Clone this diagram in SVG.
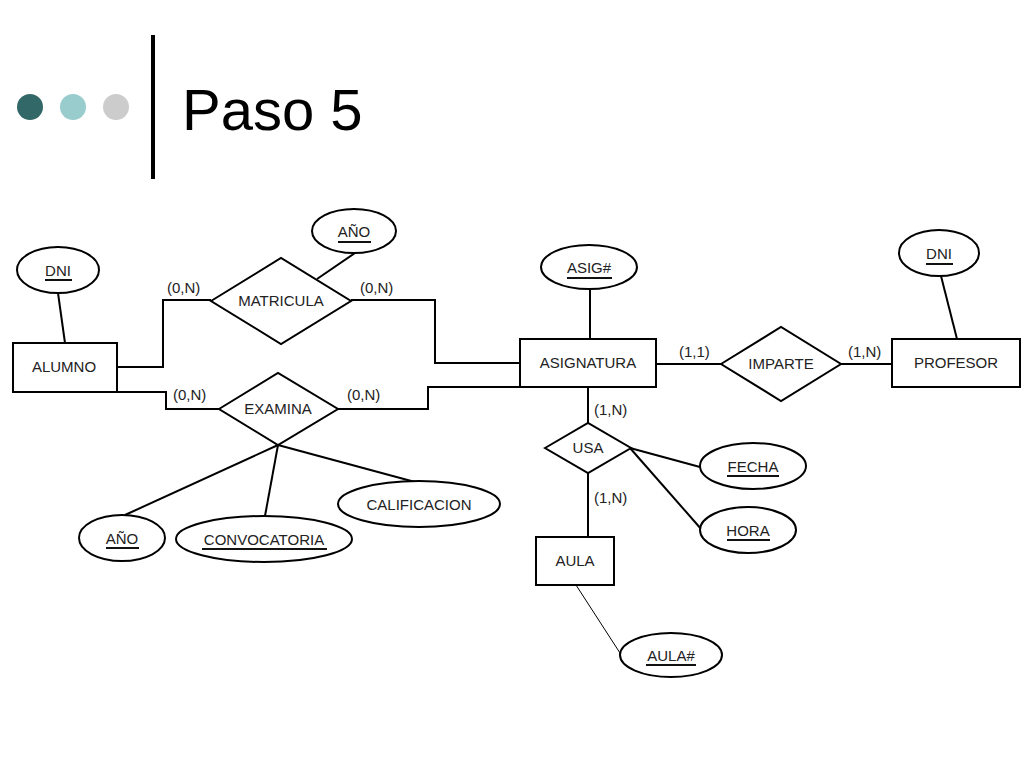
<svg xmlns="http://www.w3.org/2000/svg" width="1024" height="768" viewBox="0 0 1024 768">
<style>
.shape{fill:#fff;stroke:#000;stroke-width:2}
.conn{fill:none;stroke:#000;stroke-width:2}
.thin{fill:none;stroke:#000;stroke-width:1}
.t{font-family:"Liberation Sans",Arial,sans-serif;font-size:15px;fill:#222;text-anchor:middle}
.c{font-family:"Liberation Sans",Arial,sans-serif;font-size:15px;fill:#222}
.ul{stroke:#111;stroke-width:2}
</style>
<rect width="1024" height="768" fill="#fff"/>
<g id="header">
<circle cx="30" cy="107" r="13" fill="#336868"/>
<circle cx="73" cy="107" r="13" fill="#99cccc"/>
<circle cx="116" cy="107" r="13" fill="#cccccc"/>
<rect x="151" y="35" width="4" height="144" fill="#000"/>
<text x="182" y="130" font-family="'Liberation Sans',Arial,sans-serif" font-size="58" fill="#000">Paso 5</text>
</g>
<g id="connectors">
<polyline class="conn" points="117,367 163,367 163,300 211,300"/>
<polyline class="conn" points="351,300 435,300 435,363 520,363"/>
<polyline class="conn" points="117,392 166,392 166,409 219,409"/>
<polyline class="conn" points="338,409 428,409 428,387 520,387"/>
<line class="conn" x1="58" y1="293" x2="65" y2="343"/>
<line class="conn" x1="355" y1="253" x2="317" y2="279"/>
<line class="conn" x1="590" y1="290" x2="590" y2="339"/>
<line class="conn" x1="656" y1="364" x2="721" y2="364"/>
<line class="conn" x1="841" y1="364" x2="892" y2="364"/>
<line class="conn" x1="941" y1="276" x2="957" y2="339"/>
<line class="conn" x1="588" y1="387" x2="588" y2="423"/>
<line class="conn" x1="588" y1="473" x2="588" y2="537"/>
<line class="conn" x1="630" y1="448" x2="700" y2="467"/>
<line class="conn" x1="630" y1="448" x2="702" y2="530"/>
<line class="thin" x1="576" y1="585" x2="620" y2="653"/>
<line class="conn" x1="278" y1="445" x2="125" y2="515"/>
<line class="conn" x1="278" y1="445" x2="265" y2="516"/>
<line class="conn" x1="278" y1="445" x2="415" y2="482"/>
<text class="c" x="167" y="293">(0,N)</text>
<text class="c" x="360" y="293">(0,N)</text>
<text class="c" x="173" y="400">(0,N)</text>
<text class="c" x="347" y="400">(0,N)</text>
<text class="c" x="679" y="357">(1,1)</text>
<text class="c" x="848" y="357">(1,N)</text>
<text class="c" x="594" y="415">(1,N)</text>
<text class="c" x="594" y="503">(1,N)</text>
</g>
<g id="alumno">
<rect class="shape" x="13" y="343" width="104" height="49"/>
<text class="t" x="64" y="372">ALUMNO</text>
</g>
<g id="dni-alumno">
<ellipse class="shape" cx="58" cy="270" rx="41" ry="23"/>
<text class="t" x="58" y="276">DNI</text>
<line class="ul" x1="45" y1="280" x2="72" y2="280"/>
</g>
<g id="matricula">
<polygon class="shape" points="211,301 281,258 351,301 281,344"/>
<text class="t" x="281" y="306">MATRICULA</text>
</g>
<g id="anio-matricula">
<ellipse class="shape" cx="354" cy="231" rx="42" ry="22"/>
<text class="t" x="354" y="237">AÑO</text>
<line class="ul" x1="338" y1="242" x2="371" y2="242"/>
</g>
<g id="examina">
<polygon class="shape" points="219,409 278,373 338,409 278,445"/>
<text class="t" x="278" y="414">EXAMINA</text>
</g>
<g id="anio-examina">
<ellipse class="shape" cx="122" cy="538" rx="43" ry="23"/>
<text class="t" x="122" y="544">AÑO</text>
<line class="ul" x1="106" y1="548" x2="139" y2="548"/>
</g>
<g id="convocatoria">
<ellipse class="shape" cx="264" cy="539" rx="88" ry="23"/>
<text class="t" x="264" y="545">CONVOCATORIA</text>
<line class="ul" x1="202" y1="549" x2="327" y2="549"/>
</g>
<g id="calificacion">
<ellipse class="shape" cx="419" cy="504" rx="81" ry="23"/>
<text class="t" x="419" y="510">CALIFICACION</text>
</g>
<g id="asignatura">
<rect class="shape" x="520" y="339" width="136" height="48"/>
<text class="t" x="588" y="368">ASIGNATURA</text>
</g>
<g id="asig">
<ellipse class="shape" cx="589" cy="267" rx="48" ry="22"/>
<text class="t" x="589" y="273">ASIG#</text>
<line class="ul" x1="567" y1="278" x2="612" y2="278"/>
</g>
<g id="imparte">
<polygon class="shape" points="721,364 781,327 841,364 781,401"/>
<text class="t" x="781" y="369">IMPARTE</text>
</g>
<g id="profesor">
<rect class="shape" x="892" y="339" width="128" height="48"/>
<text class="t" x="956" y="368">PROFESOR</text>
</g>
<g id="dni-profesor">
<ellipse class="shape" cx="939" cy="253" rx="40" ry="23"/>
<text class="t" x="939" y="259">DNI</text>
<line class="ul" x1="926" y1="264" x2="953" y2="264"/>
</g>
<g id="usa">
<polygon class="shape" points="545,448 588,423 631,448 588,473"/>
<text class="t" x="588" y="453">USA</text>
</g>
<g id="fecha">
<ellipse class="shape" cx="753" cy="466" rx="53" ry="23"/>
<text class="t" x="753" y="472">FECHA</text>
<line class="ul" x1="727" y1="476" x2="779" y2="476"/>
</g>
<g id="hora">
<ellipse class="shape" cx="748" cy="530" rx="48" ry="23"/>
<text class="t" x="748" y="536">HORA</text>
<line class="ul" x1="727" y1="540" x2="770" y2="540"/>
</g>
<g id="aula">
<rect class="shape" x="536" y="537" width="78" height="48"/>
<text class="t" x="575" y="566">AULA</text>
</g>
<g id="aula-num">
<ellipse class="shape" cx="671" cy="655" rx="51" ry="22"/>
<text class="t" x="671" y="661">AULA#</text>
<line class="ul" x1="646" y1="665" x2="696" y2="665"/>
</g>
</svg>
